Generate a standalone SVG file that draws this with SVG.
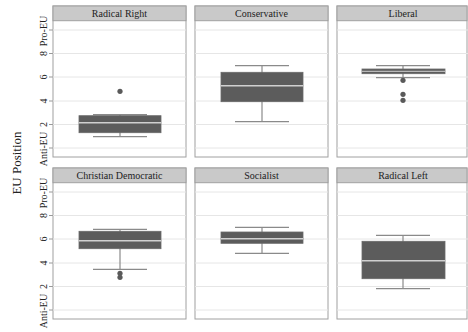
<svg xmlns="http://www.w3.org/2000/svg" width="468" height="332" viewBox="0 0 468 332">
<style>
.panel{fill:#fff;stroke:#a0a0a0;stroke-width:1}
.hdr{fill:#c9c9c9;stroke:#a0a0a0;stroke-width:1}
.ht{font-family:"Liberation Serif",serif;font-size:10px;fill:#222;text-anchor:middle}
.grid{stroke:#e6e6e6;stroke-width:1}
.tick{stroke:#999;stroke-width:1}
.tl{font-family:"Liberation Serif",serif;font-size:10px;fill:#222;text-anchor:middle}
.box{fill:#5c5c5c;stroke:#6a6a6a;stroke-width:0.8}
.med{stroke:#d0d0d0;stroke-width:1.5}
.wh{stroke:#8a8a8a;stroke-width:1.2;fill:none}
.out{fill:#5a5a5a}
</style>
<rect width="468" height="332" fill="#fff"/>
<text x="21" y="163" transform="rotate(-90 21 163)" font-family="Liberation Serif, serif" font-size="13" fill="#222" text-anchor="middle">EU Position</text>

<g id="axis-top">
<line class="tick" x1="49" y1="30" x2="53" y2="30"/>
<line class="tick" x1="49" y1="53.5" x2="53" y2="53.5"/>
<line class="tick" x1="49" y1="77" x2="53" y2="77"/>
<line class="tick" x1="49" y1="101" x2="53" y2="101"/>
<line class="tick" x1="49" y1="124.5" x2="53" y2="124.5"/>
<line class="tick" x1="49" y1="148" x2="53" y2="148"/>
<text class="tl" x="47" y="31" transform="rotate(-90 47 31)">Pro-EU</text>
<text class="tl" x="47" y="53.5" transform="rotate(-90 47 53.5)">8</text>
<text class="tl" x="47" y="77" transform="rotate(-90 47 77)">6</text>
<text class="tl" x="47" y="101" transform="rotate(-90 47 101)">4</text>
<text class="tl" x="47" y="124.5" transform="rotate(-90 47 124.5)">2</text>
<text class="tl" x="47" y="149" transform="rotate(-90 47 149)">Anti-EU</text>
</g>
<g id="axis-bottom">
<line class="tick" x1="49" y1="192" x2="53" y2="192"/>
<line class="tick" x1="49" y1="215.5" x2="53" y2="215.5"/>
<line class="tick" x1="49" y1="239" x2="53" y2="239"/>
<line class="tick" x1="49" y1="263" x2="53" y2="263"/>
<line class="tick" x1="49" y1="286.5" x2="53" y2="286.5"/>
<line class="tick" x1="49" y1="310" x2="53" y2="310"/>
<text class="tl" x="47" y="193" transform="rotate(-90 47 193)">Pro-EU</text>
<text class="tl" x="47" y="215.5" transform="rotate(-90 47 215.5)">8</text>
<text class="tl" x="47" y="239" transform="rotate(-90 47 239)">6</text>
<text class="tl" x="47" y="263" transform="rotate(-90 47 263)">4</text>
<text class="tl" x="47" y="286.5" transform="rotate(-90 47 286.5)">2</text>
<text class="tl" x="47" y="311" transform="rotate(-90 47 311)">Anti-EU</text>
</g>

<defs>
<g id="gridTop">
<line class="grid" x1="0" y1="30" x2="133" y2="30"/>
<line class="grid" x1="0" y1="53.5" x2="133" y2="53.5"/>
<line class="grid" x1="0" y1="77" x2="133" y2="77"/>
<line class="grid" x1="0" y1="101" x2="133" y2="101"/>
<line class="grid" x1="0" y1="124.5" x2="133" y2="124.5"/>
<line class="grid" x1="0" y1="148" x2="133" y2="148"/>
</g>
</defs>

<g id="radical-right">
<rect class="panel" x="53" y="6" width="133" height="151"/>
<use href="#gridTop" x="53" y="0"/>
<rect class="hdr" x="53" y="6" width="133" height="14.7"/>
<text class="ht" x="119.5" y="17">Radical Right</text>
<line class="wh" x1="120" y1="114.7" x2="120" y2="136.7"/>
<line class="wh" x1="93" y1="114.7" x2="147" y2="114.7"/>
<line class="wh" x1="93" y1="136.7" x2="147" y2="136.7"/>
<rect class="box" x="79" y="115.7" width="82" height="17"/>
<line class="med" x1="79" y1="122.7" x2="161" y2="122.7"/>
<circle class="out" cx="120" cy="91.3" r="2.6"/>
</g>

<g id="conservative">
<rect class="panel" x="195" y="6" width="133" height="151"/>
<use href="#gridTop" x="195" y="0"/>
<rect class="hdr" x="195" y="6" width="133" height="14.7"/>
<text class="ht" x="261.5" y="17">Conservative</text>
<line class="wh" x1="262" y1="65.7" x2="262" y2="121.7"/>
<line class="wh" x1="235" y1="65.7" x2="289" y2="65.7"/>
<line class="wh" x1="235" y1="121.7" x2="289" y2="121.7"/>
<rect class="box" x="221" y="72.3" width="82" height="29.4"/>
<line class="med" x1="221" y1="85.7" x2="303" y2="85.7"/>
</g>

<g id="liberal">
<rect class="panel" x="337" y="6" width="130" height="151"/>
<use href="#gridTop" x="337" y="0"/>
<rect class="hdr" x="337" y="6" width="130" height="14.7"/>
<text class="ht" x="403" y="17">Liberal</text>
<line class="wh" x1="403" y1="65.7" x2="403" y2="77.7"/>
<line class="wh" x1="376" y1="65.7" x2="430" y2="65.7"/>
<line class="wh" x1="376" y1="77.7" x2="430" y2="77.7"/>
<rect class="box" x="362" y="69" width="83" height="4.7"/>
<line class="med" x1="362" y1="71.3" x2="445" y2="71.3" style="stroke-width:1"/>
<circle class="out" cx="403" cy="80.3" r="2.6"/>
<circle class="out" cx="403" cy="94.3" r="2.6"/>
<circle class="out" cx="403" cy="100.3" r="2.6"/>
</g>

<g id="christian-democratic">
<rect class="panel" x="53" y="168" width="133" height="151"/>
<use href="#gridTop" x="53" y="162"/>
<rect class="hdr" x="53" y="168" width="133" height="14.7"/>
<text class="ht" x="119.5" y="179">Christian Democratic</text>
<line class="wh" x1="120" y1="229.3" x2="120" y2="269.3"/>
<line class="wh" x1="93" y1="229.3" x2="147" y2="229.3"/>
<line class="wh" x1="93" y1="269.3" x2="147" y2="269.3"/>
<rect class="box" x="79" y="231.3" width="82" height="17.4"/>
<line class="med" x1="79" y1="240.7" x2="161" y2="240.7"/>
<circle class="out" cx="120" cy="273.3" r="2.6"/>
<circle class="out" cx="120" cy="277.3" r="2.6"/>
</g>

<g id="socialist">
<rect class="panel" x="195" y="168" width="133" height="151"/>
<use href="#gridTop" x="195" y="162"/>
<rect class="hdr" x="195" y="168" width="133" height="14.7"/>
<text class="ht" x="261.5" y="179">Socialist</text>
<line class="wh" x1="262" y1="227.3" x2="262" y2="253.3"/>
<line class="wh" x1="235" y1="227.3" x2="289" y2="227.3"/>
<line class="wh" x1="235" y1="253.3" x2="289" y2="253.3"/>
<rect class="box" x="221" y="232" width="82" height="11.3"/>
<line class="med" x1="221" y1="238.7" x2="303" y2="238.7"/>
</g>

<g id="radical-left">
<rect class="panel" x="337" y="168" width="130" height="151"/>
<use href="#gridTop" x="337" y="162"/>
<rect class="hdr" x="337" y="168" width="130" height="14.7"/>
<text class="ht" x="403" y="179">Radical Left</text>
<line class="wh" x1="403" y1="235.3" x2="403" y2="288.7"/>
<line class="wh" x1="376" y1="235.3" x2="430" y2="235.3"/>
<line class="wh" x1="376" y1="288.7" x2="430" y2="288.7"/>
<rect class="box" x="362" y="241.3" width="83" height="37.4"/>
<line class="med" x1="362" y1="260.7" x2="445" y2="260.7"/>
</g>
<g id="connectors"/>
</svg>
